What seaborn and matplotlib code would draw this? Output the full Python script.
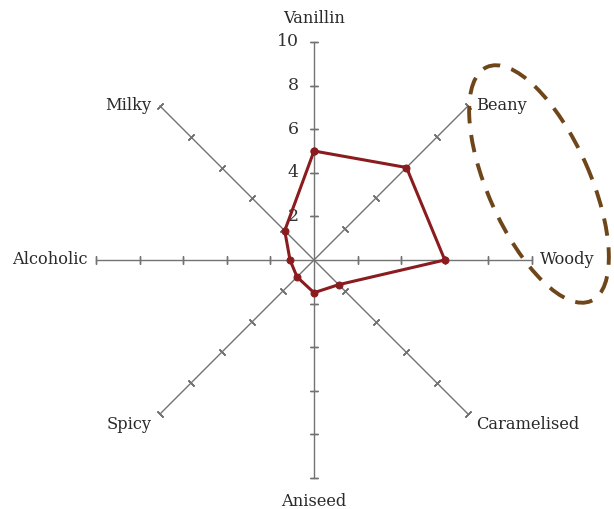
import numpy as np
import pandas as pd
import matplotlib
matplotlib.use("Agg")
import matplotlib.pyplot as plt
from matplotlib.patches import Ellipse
import seaborn as sns

# flavour profile, clockwise from the top
categories = ["Vanillin", "Beany", "Woody", "Caramelised",
              "Aniseed", "Spicy", "Alcoholic", "Milky"]
scores = [5.0, 6.0, 6.0, 1.6, 1.5, 1.1, 1.1, 1.9]
tick_values = [2, 4, 6, 8, 10]
tick_labels = ["2", "4", "6", "8", "10"]
r_max = 10

LINE_RED = "#8a1c1f"
AXIS_GREY = "#737373"
RING_BROWN = "#6e4619"

W, H, DPI = 614, 509, 100
CX, CY, RAD = 314, 260, 218  # chart centre and radius in pixels


def label_style(theta_deg):
    # where to put a category name relative to the end of its spoke
    styles = {
        0: ("center", "bottom", 0, 11),
        45: ("left", "center", 6, 0),
        90: ("left", "center", 6, 0),
        135: ("left", "top", 6, -1),
        180: ("center", "top", 0, -11),
        225: ("right", "top", -6, -1),
        270: ("right", "center", -6, 0),
        315: ("right", "center", -6, 0),
    }
    return styles[int(round(theta_deg)) % 360]


def main():
    sns.set_style("white")
    plt.rcParams["font.family"] = ["DejaVu Serif"]

    fig = plt.figure(figsize=(W / DPI, H / DPI), dpi=DPI)
    rect = [(CX - RAD) / W, (H - CY - RAD) / H, 2 * RAD / W, 2 * RAD / H]
    ax = fig.add_axes(rect, projection="polar")
    ax.set_theta_zero_location("N")
    ax.set_theta_direction(-1)
    ax.set_ylim(0, r_max)
    ax.grid(False)
    ax.spines["polar"].set_visible(False)
    ax.set_xticks([])
    ax.set_yticks([])
    ax.patch.set_alpha(0)

    n = len(categories)
    theta = np.arange(n) * 2 * np.pi / n

    # spokes with cross ticks
    for t in theta:
        ax.plot([t, t], [0, r_max], color=AXIS_GREY, lw=1.0, zorder=1,
                clip_on=False)
        rot = 90 - np.degrees(t)
        ax.plot([t] * len(tick_values), tick_values, linestyle="none",
                marker=(2, 2, rot), markersize=6, mew=1.0, color=AXIS_GREY,
                zorder=1, clip_on=False)

    # value labels on the vertical spoke
    for v, lab in zip(tick_values, tick_labels):
        ax.annotate(lab, xy=(0, v), xytext=(-11, 0), textcoords="offset points",
                    ha="right", va="center", fontsize=12.5, color="#333333")

    # category names
    for t, name in zip(theta, categories):
        ha, va, dx, dy = label_style(np.degrees(t))
        ax.annotate(name, xy=(t, r_max), xytext=(dx, dy),
                    textcoords="offset points", ha=ha, va=va,
                    fontsize=11.7, color="#2a2a2a")

    df = pd.DataFrame({
        "theta": np.append(theta, 2 * np.pi),
        "score": scores + scores[:1],
    })
    sns.lineplot(data=df, x="theta", y="score", ax=ax, sort=False,
                 estimator=None, color=LINE_RED, linewidth=2.2, marker="o",
                 markersize=5, markeredgecolor=LINE_RED, zorder=3)
    ax.set_xlabel("")
    ax.set_ylabel("")
    ax.set_ylim(0, r_max)

    # dashed highlight ring, in pixel space
    over = fig.add_axes([0, 0, 1, 1])
    over.set_xlim(0, W)
    over.set_ylim(H, 0)
    over.axis("off")
    over.patch.set_alpha(0)
    ring = Ellipse((539, 184), width=256, height=102, angle=66,
                   fill=False, edgecolor=RING_BROWN, lw=2.8,
                   linestyle=(0, (4.5, 3.0)))
    over.add_patch(ring)

    fig.savefig("out.png", dpi=DPI)
    plt.close(fig)


if __name__ == "__main__":
    main()
